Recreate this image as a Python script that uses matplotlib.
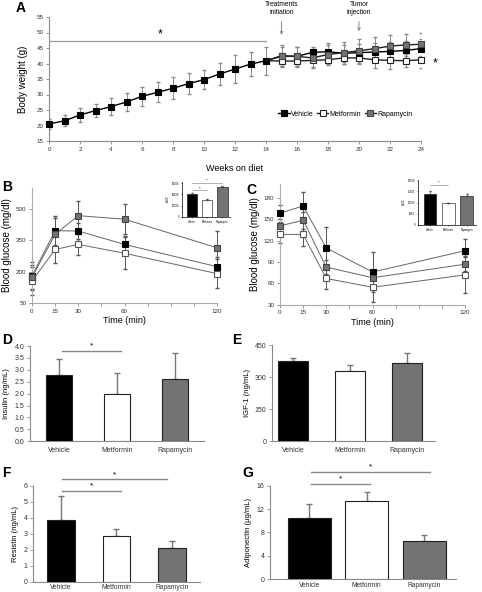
import numpy as np
import matplotlib
matplotlib.use('Agg')
import matplotlib.pyplot as plt

plt.rcParams['font.family'] = ['Liberation Sans', 'DejaVu Sans']

# --- data -----------------------------------------------------------
groups = ['Vehicle', 'Metformin', 'Rapamycin']
colors = ['#000000', '#ffffff', '#737373']

# A: body weight
weeks = np.arange(0, 25)
bw_vehicle = [20.5, 21.5, 23.4, 24.8, 26.1, 27.6, 29.4, 30.7, 32.0, 33.5, 34.8, 36.6, 38.2,
              39.8, 40.9, 42.5, 42.3, 43.6, 43.8, 43.3, 43.5, 43.7, 43.9, 44.2, 44.8]
bw_vehicle_err = [1.5, 1.8, 2.2, 2.2, 2.7, 2.8, 3.0, 3.2, 3.6, 3.4, 3.0, 3.6, 4.6,
                  3.9, 4.5, 3.5, 3.0, 1.8, 2.8, 2.8, 2.8, 3.0, 3.0, 3.0, 3.0]
weeks_trt = np.arange(14, 25)
bw_metformin = [40.9, 40.8, 40.8, 41.0, 41.2, 41.8, 41.8, 41.2, 41.0, 40.9, 41.2]
bw_metformin_err = [0, 1.7, 1.9, 2.3, 1.8, 1.9, 1.9, 2.7, 2.8, 2.1, 2.7]
bw_rapamycin = [40.9, 42.3, 42.3, 41.8, 42.9, 43.5, 44.1, 44.8, 45.6, 46.0, 46.2]
bw_rapamycin_err = [0, 3.0, 3.0, 3.0, 3.0, 3.5, 3.9, 3.8, 3.6, 3.6, 3.7]

# B: glucose tolerance
t_min = [0, 15, 30, 60, 120]
gtt_vehicle = [180, 394, 393, 329, 223]
gtt_vehicle_err = [65, 70, 40, 40, 45]
gtt_metformin = [155, 305, 329, 287, 190]
gtt_metformin_err = [65, 65, 50, 75, 70]
gtt_rapamycin = [172, 377, 466, 449, 313]
gtt_rapamycin_err = [60, 80, 70, 72, 80]
gtt_auc = [41000, 30000, 54000]
gtt_auc_err = [1000, 2000, 1500]

# C: insulin tolerance
itt_vehicle = [159, 169, 110, 76, 106]
itt_vehicle_err = [12, 20, 30, 28, 16]
itt_metformin = [129, 129, 67, 54.5, 72]
itt_metformin_err = [12, 17, 15, 20, 26]
itt_rapamycin = [141, 149, 83, 68, 87]
itt_rapamycin_err = [10, 12, 10, 10, 10]
itt_auc = [14000, 9700, 13000]
itt_auc_err = [1200, 200, 600]

# D-G: serum markers
insulin = [2.78, 2.0, 2.6]
insulin_err = [0.67, 0.85, 1.12]
igf1 = [375, 328, 365]
igf1_err = [15, 28, 50]
resistin = [3.84, 2.86, 2.1]
resistin_err = [1.52, 0.42, 0.44]
adiponectin = [10.5, 13.3, 6.6]
adiponectin_err = [2.4, 1.7, 0.9]

W, H = 482, 592
fig = plt.figure(figsize=(W / 100, H / 100), dpi=100)


def rect(l, t, r, b):
    return [l / W, 1 - b / H, (r - l) / W, (b - t) / H]


def style(ax, fs=4.5):
    for s in ['top', 'right']:
        ax.spines[s].set_visible(False)
    for s in ['left', 'bottom']:
        ax.spines[s].set_color('#8a8a8a')
        ax.spines[s].set_linewidth(0.8)
    ax.tick_params(labelsize=fs, length=2, width=0.6, color='#8a8a8a', pad=2, labelcolor='#333333')


def letter(x, y, s):
    fig.text(x / W, 1 - y / H, s, fontsize=10, fontweight='bold', va='top', ha='left')


# --- A --------------------------------------------------------------
ax = fig.add_axes(rect(49, 17, 421, 141))
style(ax)
kw = dict(marker='s', ms=5, lw=1.0, clip_on=False, markeredgewidth=0.8)
ax.errorbar(weeks_trt[1:], bw_metformin[1:], yerr=bw_metformin_err[1:], fmt='none',
            ecolor='#8a8a8a', elinewidth=0.7, capsize=1.5, zorder=2)
ax.errorbar(weeks, bw_vehicle, yerr=bw_vehicle_err, fmt='none',
            ecolor='#8a8a8a', elinewidth=0.7, capsize=1.5, zorder=2)
ax.errorbar(weeks_trt[1:], bw_rapamycin[1:], yerr=bw_rapamycin_err[1:], fmt='none',
            ecolor='#8a8a8a', elinewidth=0.7, capsize=1.5, zorder=2)
ax.plot(weeks_trt, bw_metformin, color='#222222', mfc='white', mec='#222222',
        markevery=slice(1, None), zorder=3, label='Metformin', **kw)
ax.plot(weeks, bw_vehicle, color='black', mfc='black', mec='black', zorder=4, label='Vehicle', **kw)
ax.plot(weeks_trt, bw_rapamycin, color='#222222', mfc=colors[2], mec='#444444',
        markevery=slice(1, None), zorder=5, label='Rapamycin', **kw)
ax.set_xlim(0, 24)
ax.set_ylim(15, 55)
ax.set_xticks(range(0, 25, 2))
ax.set_yticks(range(15, 56, 5))
ax.set_ylabel('Body weight (g)', fontsize=7, labelpad=6)
ax.set_xlabel('Weeks on diet', fontsize=6.5, labelpad=9)
ax.plot([0, 14], [47.4, 47.4], color='#9a9a9a', lw=0.9)
ax.text(7.2, 49.5, '*', fontsize=9, ha='center', va='center')
ax.text(24.9, 40.0, '*', fontsize=9, ha='center', va='center', clip_on=False)
ax.annotate('Treatments\ninitiation', xy=(15, 48.3), xytext=(15, 55.3), fontsize=4.8,
            ha='center', va='bottom', annotation_clip=False,
            arrowprops=dict(arrowstyle='->', color='#888888', lw=0.7))
ax.annotate('Tumor\ninjection', xy=(20, 49.5), xytext=(20, 55.3), fontsize=4.8,
            ha='center', va='bottom', annotation_clip=False,
            arrowprops=dict(arrowstyle='->', color='#888888', lw=0.7))
h, l = ax.get_legend_handles_labels()
order = [1, 0, 2]
ax.legend([h[i] for i in order], [l[i] for i in order], loc='center left',
          bbox_to_anchor=(0.6, 0.215), ncol=3, frameon=False, fontsize=5,
          handlelength=1.6, handletextpad=0.2, columnspacing=0.5, markerscale=0.9)
letter(16, 1, 'A')


def glucose_panel(r, vals, errs, ylim, yticks):
    ax = fig.add_axes(r)
    style(ax)
    ax.spines['left'].set_color('#aaaaaa')
    ax.spines['bottom'].set_color('#aaaaaa')
    mfcs = ['black', 'white', colors[2]]
    mecs = ['black', '#555555', '#444444']
    for v, e, fc, ec in zip(vals, errs, mfcs, mecs):
        ax.errorbar(t_min, v, yerr=e, fmt='none', ecolor='#555555', elinewidth=0.7,
                    capsize=1.2, zorder=2, clip_on=False)
        ax.plot(t_min, v, marker='s', ms=4.8, lw=0.7, color='#666666', mfc=fc, mec=ec,
                markeredgewidth=0.8, clip_on=False, zorder=3)
    ax.set_xlim(0, 120)
    ax.set_ylim(*ylim)
    ax.set_xticks(range(0, 121, 15))
    ax.set_xticklabels(['0', '15', '30', '', '60', '', '', '', '120'])
    ax.set_yticks(yticks)
    ax.set_xlabel('Time (min)', fontsize=6.5, labelpad=2)
    ax.set_ylabel('Blood glucose (mg/dl)', fontsize=7, labelpad=3)
    return ax


def inset(r, vals, errs, ylim, yticks, sig):
    ax = fig.add_axes(r)
    for s in ['top', 'right']:
        ax.spines[s].set_visible(False)
    for s in ['left', 'bottom']:
        ax.spines[s].set_linewidth(0.5)
    x = np.arange(3)
    ax.bar(x, vals, width=0.7, color=colors, edgecolor='black', linewidth=0.4)
    ax.errorbar(x, vals, yerr=[[0, 0, 0], errs], fmt='none', ecolor='#444444',
                elinewidth=0.4, capsize=1)
    ax.set_xlim(-0.65, 2.5)
    ax.set_ylim(*ylim)
    ax.set_yticks(yticks)
    ax.set_xticks(x)
    ax.set_xticklabels(groups)
    ax.tick_params(labelsize=1.8, length=1, width=0.4, pad=1)
    ax.set_ylabel('AUC', fontsize=2, labelpad=1)
    for (a, b, yv) in sig:
        ax.plot([a, b], [yv, yv], color='#777777', lw=0.4, clip_on=False)
        ax.text((a + b) / 2, yv, '*', fontsize=3, ha='center', va='bottom')
    return ax


# --- B --------------------------------------------------------------
glucose_panel(rect(32, 187.5, 217, 303), [gtt_vehicle, gtt_metformin, gtt_rapamycin],
              [gtt_vehicle_err, gtt_metformin_err, gtt_rapamycin_err], (50, 600), [50, 200, 350, 500])
inset(rect(182, 182, 230, 217), gtt_auc, gtt_auc_err, (0, 62000), [0, 20000, 40000, 60000],
      [(0, 1, 47000), (0, 2, 60000)])
letter(2, 180, 'B')

# --- C --------------------------------------------------------------
glucose_panel(rect(280, 184, 465, 304.7), [itt_vehicle, itt_metformin, itt_rapamycin],
              [itt_vehicle_err, itt_metformin_err, itt_rapamycin_err], (30, 200), [30, 60, 90, 120, 150, 180])
inset(rect(418, 180, 476, 225), itt_auc, itt_auc_err, (0, 20000), [0, 5000, 10000, 15000, 20000],
      [(0, 1, 17800)])
letter(246, 183, 'C')


def bar_panel(r, vals, errs, ylim, yticks, ylabel, xlim, width, sig, xpad=4, xfs=5):
    ax = fig.add_axes(r)
    style(ax, fs=5)
    x = np.arange(3)
    ax.bar(x, vals, width=width, color=colors, edgecolor='#222222', linewidth=0.8, zorder=3)
    ax.errorbar(x, vals, yerr=[[0, 0, 0], errs], fmt='none', ecolor='#777777',
                elinewidth=1.0, capsize=2, zorder=2)
    ax.set_xlim(*xlim)
    ax.set_ylim(*ylim)
    ax.set_yticks(yticks)
    ax.set_xticks(x)
    ax.set_xticklabels(groups)
    ax.tick_params(axis='x', length=0, pad=xpad, labelsize=xfs)
    ax.set_ylabel(ylabel, fontsize=5.5, labelpad=3)
    for (a, b, yv, ys) in sig:
        ax.plot([a, b], [yv, yv], color='#888888', lw=1.0, clip_on=False)
        ax.text((a + b) / 2, ys, '*', fontsize=6, ha='center', va='center', clip_on=False)
    return ax


# --- D --------------------------------------------------------------
bar_panel(rect(30, 346.1, 204, 441.3), insulin, insulin_err, (0, 4), np.arange(0, 4.01, 0.5),
          'Insulin (ng/mL)', (-0.5, 2.5), 0.46, [(0.05, 1.07, 3.8, 4.0)])
letter(2, 333, 'D')

# --- E --------------------------------------------------------------
bar_panel(rect(272, 345.3, 435, 441.3), igf1, igf1_err, (0, 450), [0, 150, 300, 450],
          'IGF-1 (ng/mL)', (-0.37, 2.49), 0.53, [])
letter(232, 333, 'E')

# --- F --------------------------------------------------------------
bar_panel(rect(33, 485.7, 200, 581.7), resistin, resistin_err, (0, 6), range(0, 7),
          'Resistin (ng/mL)', (-0.5, 2.5), 0.5,
          [(0.02, 1.08, 5.7, 6.0), (0.02, 1.9, 6.4, 6.7)], xpad=1.5, xfs=4.8)
letter(2, 466, 'F')

# --- G --------------------------------------------------------------
bar_panel(rect(270, 485.7, 456, 579), adiponectin, adiponectin_err, (0, 16), [0, 4, 8, 12, 16],
          'Adiponectin (\u00b5g/mL)', (-0.68, 2.55), 0.75,
          [(0.04, 1.06, 16.3, 17.2), (0.04, 2.1, 18.3, 19.2)], xpad=2, xfs=4.8)
letter(242, 466, 'G')

fig.savefig('out.png', dpi=100)
